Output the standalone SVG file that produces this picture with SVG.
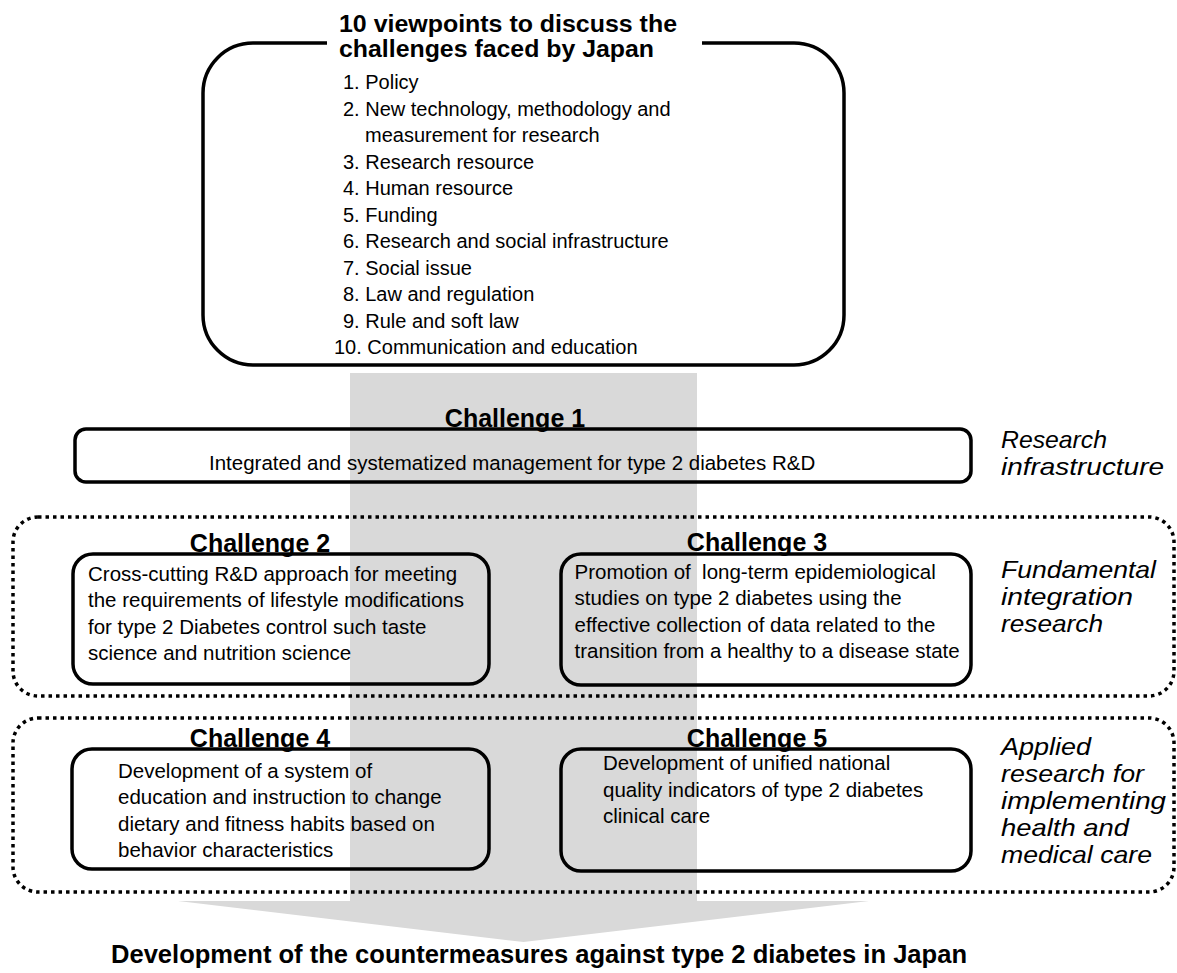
<svg xmlns="http://www.w3.org/2000/svg" width="1177" height="973" viewBox="0 0 1177 973">
<style>
text{font-family:"Liberation Sans",Arial,sans-serif;fill:#000}
.t{font-size:23px;font-weight:bold}
.li{font-size:20px}
.bx{font-size:20.5px}
.lab{font-size:25px;font-weight:bold;text-anchor:middle}
.it{font-size:24px;font-style:italic}
.box{fill:none;stroke:#000;stroke-width:3.5}
.grp{fill:none;stroke:#000;stroke-width:3.5;stroke-dasharray:3.5 4}
</style>
<rect width="1177" height="973" fill="#fff"/>
<g id="connectors">
<path d="M350,373 H697 V901 H869 L523.5,942 L178,901 H350 Z" fill="#d9d9d9"/>
</g>
<g id="viewpoints">
<path class="box" d="M327,43 H253 A50,50 0 0 0 203,93 V315 A50,50 0 0 0 253,365 H794 A50,50 0 0 0 844,315 V93 A50,50 0 0 0 794,43 H702"/>
<text class="t" x="339" y="32" textLength="338" lengthAdjust="spacingAndGlyphs">10 viewpoints to discuss the</text>
<text class="t" x="339" y="57" textLength="315" lengthAdjust="spacingAndGlyphs">challenges faced by Japan</text>
<text class="li" x="343" y="89">1. Policy</text>
<text class="li" x="343" y="115.5">2. New technology, methodology and</text>
<text class="li" x="365" y="142">measurement for research</text>
<text class="li" x="343" y="168.5">3. Research resource</text>
<text class="li" x="343" y="195">4. Human resource</text>
<text class="li" x="343" y="221.5">5. Funding</text>
<text class="li" x="343" y="248">6. Research and social infrastructure</text>
<text class="li" x="343" y="274.5">7. Social issue</text>
<text class="li" x="343" y="301">8. Law and regulation</text>
<text class="li" x="343" y="327.5">9. Rule and soft law</text>
<text class="li" x="334" y="354">10. Communication and education</text>
</g>
<g id="challenge1">
<rect class="box" x="75" y="429" width="896" height="53" rx="11"/>
<text class="lab" x="515" y="427">Challenge 1</text>
<text class="bx" x="209" y="470">Integrated and systematized management for type 2 diabetes R&amp;D</text>
</g>
<g id="label-research-infrastructure">
<text class="it" x="1001" y="448" textLength="106" lengthAdjust="spacingAndGlyphs">Research</text>
<text class="it" x="1001" y="475" textLength="163" lengthAdjust="spacingAndGlyphs">infrastructure</text>
</g>
<g id="group-fundamental">
<rect class="grp" x="13" y="517" width="1161" height="179" rx="25"/>
<text class="it" x="1001" y="578" textLength="155" lengthAdjust="spacingAndGlyphs">Fundamental</text>
<text class="it" x="1001" y="605" textLength="132" lengthAdjust="spacingAndGlyphs">integration</text>
<text class="it" x="1001" y="632" textLength="102" lengthAdjust="spacingAndGlyphs">research</text>
</g>
<g id="challenge2">
<rect class="box" x="73" y="554" width="416" height="130" rx="20"/>
<text class="lab" x="260" y="552">Challenge 2</text>
<text class="bx" x="88" y="581">Cross-cutting R&amp;D approach for meeting</text>
<text class="bx" x="88" y="607">the requirements of lifestyle modifications</text>
<text class="bx" x="88" y="634">for type 2 Diabetes control such taste</text>
<text class="bx" x="88" y="660">science and nutrition science</text>
</g>
<g id="challenge3">
<rect class="box" x="561" y="554" width="410" height="131" rx="20"/>
<text class="lab" x="757" y="551">Challenge 3</text>
<text class="bx" x="574.5" y="579" xml:space="preserve">Promotion of  long-term epidemiological</text>
<text class="bx" x="574.5" y="605">studies on type 2 diabetes using the</text>
<text class="bx" x="574.5" y="632">effective collection of data related to the</text>
<text class="bx" x="574.5" y="658">transition from a healthy to a disease state</text>
</g>
<g id="group-applied">
<rect class="grp" x="13" y="718" width="1161" height="174" rx="25"/>
<text class="it" x="1001" y="755" textLength="90" lengthAdjust="spacingAndGlyphs">Applied</text>
<text class="it" x="1001" y="782" textLength="143" lengthAdjust="spacingAndGlyphs">research for</text>
<text class="it" x="1001" y="809" textLength="165" lengthAdjust="spacingAndGlyphs">implementing</text>
<text class="it" x="1001" y="836" textLength="128" lengthAdjust="spacingAndGlyphs">health and</text>
<text class="it" x="1001" y="863" textLength="151" lengthAdjust="spacingAndGlyphs">medical care</text>
</g>
<g id="challenge4">
<rect class="box" x="72" y="749" width="417" height="120" rx="20"/>
<text class="lab" x="260" y="747">Challenge 4</text>
<text class="bx" x="118" y="778">Development of a system of</text>
<text class="bx" x="118" y="804">education and instruction to change</text>
<text class="bx" x="118" y="831">dietary and fitness habits based on</text>
<text class="bx" x="118" y="857">behavior characteristics</text>
</g>
<g id="challenge5">
<rect class="box" x="561" y="749" width="410" height="122" rx="20"/>
<text class="lab" x="757" y="747">Challenge 5</text>
<text class="bx" x="603" y="770">Development of unified national</text>
<text class="bx" x="603" y="797">quality indicators of type 2 diabetes</text>
<text class="bx" x="603" y="823">clinical care</text>
</g>
<g id="outcome">
<text class="t" x="111" y="963" style="font-size:25px" textLength="856" lengthAdjust="spacingAndGlyphs">Development of the countermeasures against type 2 diabetes in Japan</text>
</g>
</svg>
